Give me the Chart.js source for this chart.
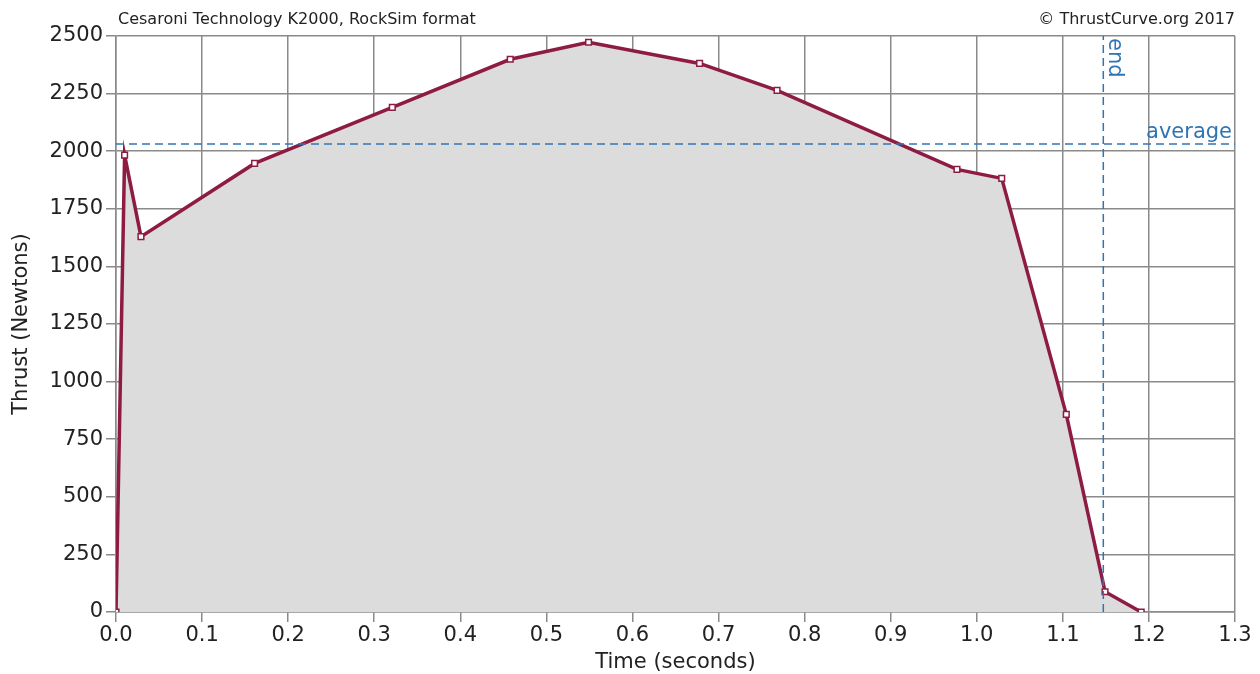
<!DOCTYPE html>
<html>
<head>
<meta charset="utf-8">
<script src="https://cdn.jsdelivr.net/npm/chart.js@4"></script>
<style>
  html, body { margin: 0; padding: 0; background: #fff; }
  #thrust { display: block; }
</style>
</head>
<body>
<canvas id="thrust" width="1260" height="674"></canvas>
<script>
// thrust curve samples (seconds, newtons)
const TIMES  = [0, 0.010, 0.029, 0.161, 0.321, 0.458, 0.549, 0.678, 0.768, 0.977, 1.029, 1.104, 1.149, 1.191];
const THRUST = [0, 1983, 1629, 1947, 2190, 2399, 2473, 2381, 2264, 1921, 1882, 858, 88, 0];

const AVERAGE = 2031;
const BURN_END = 1.147;

const TITLE = "Cesaroni Technology K2000, RockSim format";
const CREDIT = "\u00A9 ThrustCurve.org 2017";

const FONT = "'DejaVu Sans', Verdana, sans-serif";
const LINE = '#8e1b44';
const GUIDE = '#2f75b5';
const GRID = '#8a8a8a';

const curve = TIMES.map((t, i) => ({ x: t, y: THRUST[i] }));

// texts that live outside the axes
const labelsPlugin = {
  id: 'labels',
  afterDraw(chart) {
    const ctx = chart.ctx;
    const xs = chart.scales.x, ys = chart.scales.y;
    const area = chart.chartArea;
    ctx.save();
    ctx.fillStyle = '#222';
    ctx.font = '16px ' + FONT;
    ctx.textBaseline = 'alphabetic';
    ctx.textAlign = 'left';
    ctx.fillText(TITLE, area.left + 2, 24);
    ctx.textAlign = 'right';
    ctx.fillText(CREDIT, area.right, 24);

    // average label
    ctx.fillStyle = GUIDE;
    ctx.font = '21px ' + FONT;
    ctx.textAlign = 'right';
    ctx.textBaseline = 'bottom';
    ctx.fillText('average', area.right - 3, ys.getPixelForValue(AVERAGE) - 1);

    // end label, rotated
    ctx.translate(xs.getPixelForValue(BURN_END) + 1, area.top + 2);
    ctx.rotate(Math.PI / 2);
    ctx.textAlign = 'left';
    ctx.textBaseline = 'bottom';
    ctx.fillText('end', 0, 0);
    ctx.restore();
  }
};

new Chart(document.getElementById('thrust'), {
  type: 'scatter',
  data: {
    datasets: [
      {
        label: 'Thrust',
        data: curve,
        showLine: true,
        fill: 'origin',
        backgroundColor: '#dcdcdc',
        borderColor: LINE,
        borderWidth: 3.5,
        pointStyle: 'rect',
        pointRadius: 4,
        pointBackgroundColor: '#fff',
        pointBorderColor: LINE,
        pointBorderWidth: 1.5,
        order: 2
      },
      {
        label: 'average',
        data: [{ x: 0, y: AVERAGE }, { x: 1.3, y: AVERAGE }],
        showLine: true,
        fill: false,
        borderColor: GUIDE,
        borderWidth: 1.5,
        borderDash: [8, 5],
        pointRadius: 0,
        order: 1
      },
      {
        label: 'end',
        data: [{ x: BURN_END, y: 0 }, { x: BURN_END, y: 2500 }],
        showLine: true,
        fill: false,
        borderColor: GUIDE,
        borderWidth: 1.5,
        borderDash: [8, 5],
        pointRadius: 0,
        order: 1
      }
    ]
  },
  options: {
    responsive: false,
    animation: false,
    layout: { padding: { top: 36, right: 25, left: 0, bottom: 0 } },
    plugins: {
      legend: { display: false },
      tooltip: { enabled: false }
    },
    scales: {
      x: {
        type: 'linear',
        min: 0,
        max: 1.3,
        afterFit: s => { s.height = 62; },
        ticks: {
          stepSize: 0.1,
          color: '#222',
          padding: 1,
          maxRotation: 0,
          font: { family: FONT, size: 21 },
          callback: v => v.toFixed(1)
        },
        grid: { color: GRID, lineWidth: 1.5, tickLength: 10, tickColor: GRID },
        border: { color: GRID, width: 1.5 },
        title: {
          display: true,
          text: 'Time (seconds)',
          color: '#222',
          font: { family: FONT, size: 21 },
          padding: { top: 0, bottom: -1 }
        }
      },
      y: {
        min: 0,
        max: 2500,
        afterFit: s => { s.width = 116; },
        ticks: {
          stepSize: 250,
          color: '#222',
          padding: 3,
          font: { family: FONT, size: 21 },
          callback: v => String(v)
        },
        grid: { color: GRID, lineWidth: 1.5, tickLength: 10, tickColor: GRID },
        border: { color: GRID, width: 1.5 },
        title: {
          display: true,
          text: 'Thrust (Newtons)',
          color: '#222',
          font: { family: FONT, size: 21 },
          padding: { top: 9, bottom: 0 }
        }
      }
    }
  },
  plugins: [labelsPlugin]
});
</script>
</body>
</html>
